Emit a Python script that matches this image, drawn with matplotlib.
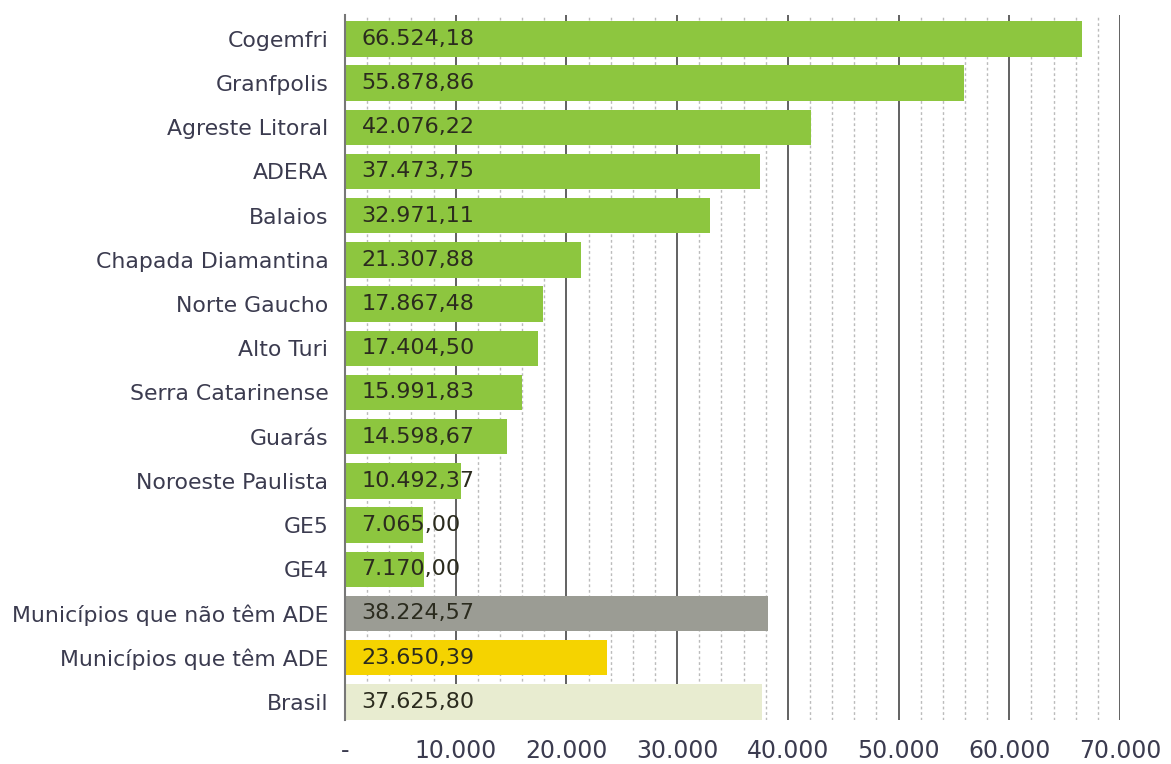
import matplotlib.pyplot as plt
from matplotlib.ticker import MultipleLocator, FixedLocator

regioes = ["Cogemfri", "Granfpolis", "Agreste Litoral", "ADERA", "Balaios",
           "Chapada Diamantina", "Norte Gaucho", "Alto Turi",
           "Serra Catarinense", "Guarás", "Noroeste Paulista", "GE5", "GE4",
           "Municípios que não têm ADE", "Municípios que têm ADE", "Brasil"]
valores = [66524.18, 55878.86, 42076.22, 37473.75, 32971.11, 21307.88,
           17867.48, 17404.50, 15991.83, 14598.67, 10492.37, 7065.00,
           7170.00, 38224.57, 23650.39, 37625.80]
cores = ["#8dc63f"] * 13 + ["#9b9c94", "#f5d300", "#e8ecd0"]

ticks_x = [0, 10000, 20000, 30000, 40000, 50000, 60000, 70000]
rotulos_x = ["-", "10.000", "20.000", "30.000", "40.000", "50.000",
             "60.000", "70.000"]


def fmt_br(v):
    s = "{:,.2f}".format(v)
    return s.replace(",", "X").replace(".", ",").replace("X", ".")


plt.rcParams['font.family'] = ['DejaVu Sans']
texto = "#3b3b4f"

fig = plt.figure(figsize=(11.71, 7.64), dpi=100)
ax = fig.add_axes([345 / 1171, 44 / 764, 775 / 1171, 705 / 764])

y = list(range(len(regioes)))
ax.barh(y, valores, height=0.8, color=cores, zorder=3)
for yi, v in zip(y, valores):
    ax.text(1500, yi, fmt_br(v), va="center", ha="left", fontsize=16,
            color="#2b2b1e", zorder=4)

ax.set_ylim(15.41, -0.54)
ax.set_xlim(0, 70000)
ax.set_yticks(y)
ax.set_yticklabels(regioes, fontsize=15.8, color=texto)
ax.tick_params(axis="y", length=0, pad=12)

ax.xaxis.set_major_locator(FixedLocator(ticks_x))
ax.set_xticklabels(rotulos_x, fontsize=17, color=texto)
ax.xaxis.set_minor_locator(MultipleLocator(2000))
ax.tick_params(axis="x", which="both", length=0, pad=14)

ax.grid(axis="x", which="major", color="#555555", linewidth=1.3, zorder=0)
ax.grid(axis="x", which="minor", color="#bbbbbb", linewidth=1,
        linestyle=(0, (2, 2)), zorder=0)

for lado in ["top", "right", "bottom"]:
    ax.spines[lado].set_visible(False)
ax.spines["left"].set_color("#777777")
ax.spines["left"].set_linewidth(1.5)
ax.spines["left"].set_zorder(5)

fig.savefig("out.png", dpi=100)
